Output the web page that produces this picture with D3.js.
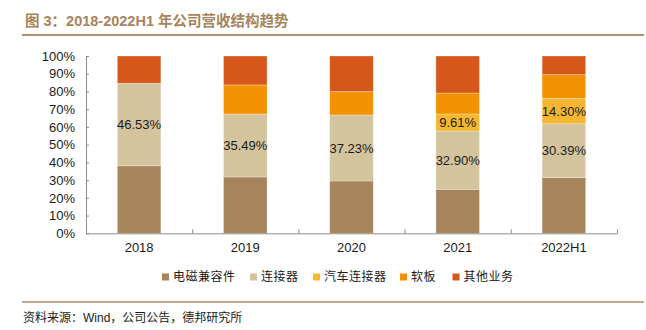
<!DOCTYPE html>
<html>
<head>
<meta charset="utf-8">
<script src="https://cdn.jsdelivr.net/npm/d3@7"></script>
<style>
  body { margin: 0; background: #fff; }
  svg { display: block; }
  text { font-family: "Liberation Sans", Arial, sans-serif; }
  .cjk { font-family: "Noto Sans CJK SC", sans-serif; }
  .mix { font-family: "Liberation Sans", Arial, "Noto Sans CJK SC", sans-serif; }
</style>
</head>
<body>
<div id="chart"></div>
<script>
// values (percent of revenue)
const categories = ['2018', '2019', '2020', '2021', '2022H1'];
const emc = [38.1, 31.8, 29.5, 24.8, 31.4];          // 电磁兼容件
const connector = [46.53, 35.49, 37.23, 32.90, 30.39]; // 连接器
const autoConn = [0, 0, 0, 9.61, 14.30];             // 汽车连接器
const softBoard = [0, 16.4, 13.2, 11.8, 13.4];        // 软板
const other = [15.37, 16.31, 20.07, 20.89, 10.51];    // 其他业务
const yTicks = [0, 10, 20, 30, 40, 50, 60, 70, 80, 90, 100];

const seriesNames = ['电磁兼容件', '连接器', '汽车连接器', '软板', '其他业务'];
const seriesKeys = ['emc', 'connector', 'autoConn', 'softBoard', 'other'];
const colors = ['#a6845c', '#d4c49e', '#f5b731', '#f39200', '#d5581a'];
const labelled = { connector: true, autoConn: true };

const w = 646, h = 330;
const brown = '#a6845c';

const rows = categories.map((c, i) => ({
  cat: c, emc: emc[i], connector: connector[i], autoConn: autoConn[i],
  softBoard: softBoard[i], other: other[i]
}));

const svg = d3.select('#chart').append('svg')
  .attr('width', w).attr('height', h);

// title
svg.append('text')
  .attr('class', 'mix')
  .attr('x', 25).attr('y', 26)
  .attr('fill', brown)
  .style('font-size', '14.5px')
  .style('font-weight', 'bold')
  .text('图 3：2018-2022H1 年公司营收结构趋势');

svg.append('line')
  .attr('x1', 22).attr('x2', 644).attr('y1', 35).attr('y2', 35)
  .attr('stroke', '#b08e6e').attr('stroke-width', 2);

const x = d3.scaleBand()
  .domain(categories)
  .range([86, 617])
  .paddingInner(0.59)
  .paddingOuter(0.295);

const y = d3.scaleLinear().domain([0, 100]).range([233.3, 56]);

const stack = d3.stack().keys(seriesKeys);
const layers = stack(rows);

const g = svg.append('g');
layers.forEach((layer, li) => {
  g.selectAll('rect.s' + li)
    .data(layer)
    .enter()
    .append('rect')
    .attr('class', 's' + li)
    .attr('x', d => x(d.data.cat))
    .attr('y', d => y(d[1]))
    .attr('width', x.bandwidth())
    .attr('height', d => y(d[0]) - y(d[1]))
    .attr('fill', colors[li])
    .attr('stroke', '#fff')
    .attr('stroke-opacity', 0.35)
    .attr('stroke-width', 0.8);

  if (labelled[layer.key]) {
    g.selectAll('text.l' + li)
      .data(layer.filter(d => d[1] - d[0] > 0))
      .enter()
      .append('text')
      .attr('x', d => x(d.data.cat) + x.bandwidth() / 2)
      .attr('y', d => y((d[0] + d[1]) / 2))
      .attr('dy', '0.35em')
      .attr('text-anchor', 'middle')
      .attr('fill', '#1a1a1a')
      .style('font-size', '13px')
      .text(d => (d[1] - d[0]).toFixed(2) + '%');
  }
});

// y axis
const yAxis = d3.axisLeft(y)
  .tickValues(yTicks)
  .tickSizeInner(-3)
  .tickSizeOuter(0)
  .tickPadding(11)
  .tickFormat(d => d + '%');

const yg = svg.append('g')
  .attr('transform', 'translate(86,0)')
  .call(yAxis);
yg.select('.domain').attr('stroke', '#8c8c8c');
yg.selectAll('.tick line').attr('stroke', '#8c8c8c');
yg.selectAll('.tick text')
  .attr('fill', '#1a1a1a')
  .style('font-size', '13px')
  .style('font-family', '"Liberation Sans", Arial, sans-serif');

// x axis: boundary ticks + category labels
const xEdge = d3.scaleLinear().domain([0, categories.length]).range([86, 617]);
const xgTicks = svg.append('g')
  .attr('transform', 'translate(0,233.3)')
  .call(d3.axisBottom(xEdge)
    .tickValues(d3.range(1, categories.length + 1))
    .tickSizeInner(-4)
    .tickSizeOuter(0)
    .tickFormat(''));
xgTicks.select('.domain').attr('stroke', '#8c8c8c');
xgTicks.selectAll('.tick line').attr('stroke', '#8c8c8c');

const xgLabels = svg.append('g')
  .attr('transform', 'translate(0,233.3)')
  .call(d3.axisBottom(x).tickSize(0).tickPadding(9));
xgLabels.select('.domain').remove();
xgLabels.selectAll('.tick text')
  .attr('fill', '#1a1a1a')
  .style('font-size', '13px')
  .style('font-family', '"Liberation Sans", Arial, sans-serif');

// legend
const legendX = [162, 250, 313, 400, 452.5];
const legend = svg.append('g');
seriesNames.forEach((name, i) => {
  legend.append('rect')
    .attr('x', legendX[i]).attr('y', 273.5)
    .attr('width', 7).attr('height', 7)
    .attr('fill', colors[i]);
  legend.append('text')
    .attr('class', 'cjk')
    .attr('x', legendX[i] + 11).attr('y', 277)
    .attr('dy', '0.36em')
    .attr('fill', '#1a1a1a')
    .style('font-size', '12px')
    .style('letter-spacing', '0.5px')
    .text(name);
});

// source
svg.append('line')
  .attr('x1', 22).attr('x2', 644).attr('y1', 302).attr('y2', 302)
  .attr('stroke', '#b08e6e').attr('stroke-width', 1.5);

svg.append('text')
  .attr('class', 'mix')
  .attr('x', 23).attr('y', 322)
  .attr('fill', '#1a1a1a')
  .style('font-size', '12px')
  .text('资料来源：Wind，公司公告，德邦研究所');
</script>
</body>
</html>
